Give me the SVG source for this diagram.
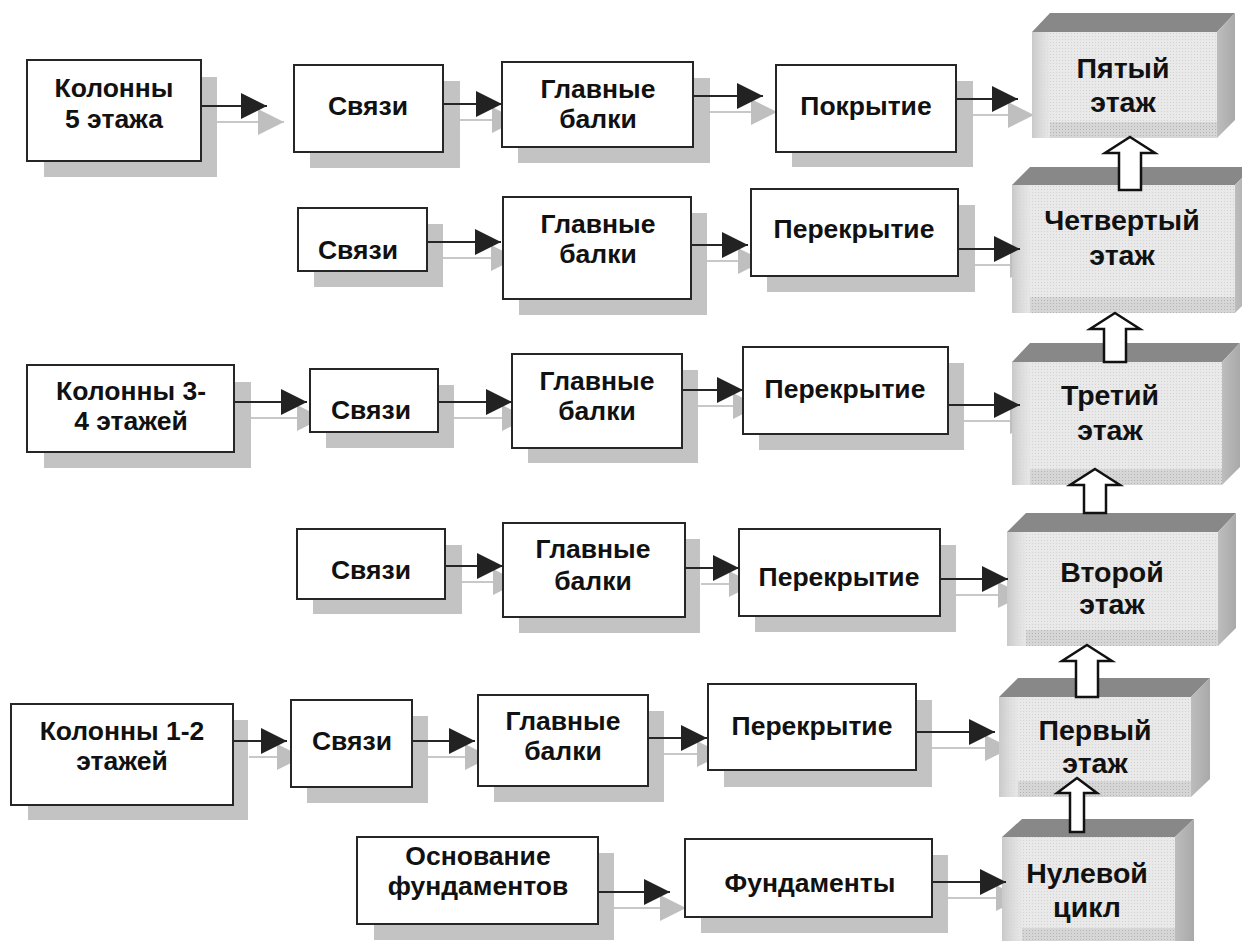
<svg xmlns="http://www.w3.org/2000/svg" width="1242" height="941" viewBox="0 0 1242 941">
<style>
.sh{fill:#c3c3c3}
.bx{fill:#fff;stroke:#262626;stroke-width:2}
.t{font-family:"Liberation Sans",Arial,sans-serif;font-weight:bold;font-size:26.5px;text-anchor:middle;fill:#111}
.t3{font-family:"Liberation Sans",Arial,sans-serif;font-weight:bold;font-size:28.5px;text-anchor:middle;fill:#111}
.bl{stroke:#262626;stroke-width:2;fill:none;marker-end:url(#ah)}
.gl{stroke:#c8c8c8;stroke-width:2;fill:none;marker-end:url(#gh)}
.front{fill:url(#dots)}
.lstrip{fill:url(#lg)}
.bstrip{fill:url(#ddots)}
.top{fill:#888}
.side{fill:url(#sg)}
.up{fill:#fff;stroke:#111;stroke-width:2.5;stroke-linejoin:miter}
</style>
<defs>
<marker id="ah" markerUnits="userSpaceOnUse" markerWidth="26" markerHeight="26" refX="26" refY="13" orient="auto"><path d="M0,0 L26,13 L0,26 Z" fill="#222"/></marker>
<marker id="gh" markerUnits="userSpaceOnUse" markerWidth="26" markerHeight="26" refX="26" refY="13" orient="auto"><path d="M0,0 L26,13 L0,26 Z" fill="#bfbfbf"/></marker>
<pattern id="dots" width="3" height="3" patternUnits="userSpaceOnUse"><rect width="3" height="3" fill="#e9e9e9"/><rect width="1" height="1" fill="#d2d2d2"/></pattern>
<pattern id="ddots" width="3" height="3" patternUnits="userSpaceOnUse"><rect width="3" height="3" fill="#d6d6d6"/><rect width="1" height="1" fill="#b4b4b4"/></pattern>
<linearGradient id="lg" x1="0" y1="0" x2="1" y2="0"><stop offset="0" stop-color="#c9c9c9"/><stop offset="1" stop-color="#e6e6e6" stop-opacity="0.6"/></linearGradient>
<linearGradient id="sg" x1="0" y1="0" x2="1" y2="0"><stop offset="0" stop-color="#bdbdbd"/><stop offset="1" stop-color="#a9a9a9"/></linearGradient>
</defs>

<g id="connector-shadows">
<path class="gl" d="M217,122 H284"/>
<path class="gl" d="M459,120 H518"/>
<path class="gl" d="M709,112 H777"/>
<path class="gl" d="M972,115 H1034"/>
<path class="gl" d="M443,258 H517"/>
<path class="gl" d="M707,261 H764"/>
<path class="gl" d="M974,265 H1036"/>
<path class="gl" d="M250,418 H323"/>
<path class="gl" d="M454,418 H528"/>
<path class="gl" d="M698,406 H759"/>
<path class="gl" d="M964,421 H1036"/>
<path class="gl" d="M461,582 H519"/>
<path class="gl" d="M701,584 H755"/>
<path class="gl" d="M956,595 H1024"/>
<path class="gl" d="M249,757 H303"/>
<path class="gl" d="M428,757 H491"/>
<path class="gl" d="M664,754 H723"/>
<path class="gl" d="M932,748 H1011"/>
<path class="gl" d="M614,908 H686"/>
<path class="gl" d="M948,898 H1022"/>
</g>

<g id="n-kol5"><rect class="sh" x="44" y="77" width="173" height="100"/><rect class="bx" x="27" y="60" width="174" height="101"/><text class="t" x="114" y="97">Колонны</text><text class="t" x="114" y="128">5 этажа</text></g>
<g id="n-sv1"><rect class="sh" x="310" y="81" width="150" height="87"/><rect class="bx" x="294" y="65" width="149" height="87"/><text class="t" x="368" y="115">Связи</text></g>
<g id="n-gb1"><rect class="sh" x="518" y="78" width="192" height="85"/><rect class="bx" x="502" y="62" width="191" height="85"/><text class="t" x="598" y="98">Главные</text><text class="t" x="598" y="128">балки</text></g>
<g id="n-pokr"><rect class="sh" x="792" y="81" width="181" height="86"/><rect class="bx" x="776" y="65" width="180" height="87"/><text class="t" x="866" y="115">Покрытие</text></g>
<g id="n-fl5"><polygon class="top" points="1032,32 1050,13 1235,13 1217,32"/><polygon class="side" points="1217,32 1235,13 1235,120 1217,138"/><rect class="front" x="1032" y="32" width="185" height="106"/><rect class="lstrip" x="1032" y="32" width="18" height="106"/><rect class="bstrip" x="1050" y="122" width="167" height="16"/><text class="t3" x="1123" y="78">Пятый</text><text class="t3" x="1123" y="112">этаж</text></g>

<g id="n-sv2"><rect class="sh" x="314" y="224" width="129" height="63"/><rect class="bx" x="298" y="208" width="129" height="63"/><text class="t" x="358" y="259">Связи</text></g>
<g id="n-gb2"><rect class="sh" x="519" y="213" width="188" height="102"/><rect class="bx" x="503" y="197" width="188" height="102"/><text class="t" x="598" y="233">Главные</text><text class="t" x="598" y="263">балки</text></g>
<g id="n-per2"><rect class="sh" x="767" y="205" width="208" height="87"/><rect class="bx" x="751" y="189" width="207" height="87"/><text class="t" x="854" y="238">Перекрытие</text></g>
<g id="n-fl4"><polygon class="top" points="1012,185 1030,167 1253,167 1235,185"/><polygon class="side" points="1235,185 1253,167 1253,295 1235,313"/><rect class="front" x="1012" y="185" width="223" height="128"/><rect class="lstrip" x="1012" y="185" width="18" height="128"/><rect class="bstrip" x="1030" y="297" width="205" height="16"/><text class="t3" x="1122" y="230">Четвертый</text><text class="t3" x="1122" y="265">этаж</text></g>

<g id="n-kol34"><rect class="sh" x="44" y="382" width="207" height="86"/><rect class="bx" x="27" y="365" width="207" height="87"/><text class="t" x="131" y="400">Колонны 3-</text><text class="t" x="131" y="430">4 этажей</text></g>
<g id="n-sv3"><rect class="sh" x="326" y="385" width="128" height="63"/><rect class="bx" x="310" y="369" width="128" height="63"/><text class="t" x="371" y="419">Связи</text></g>
<g id="n-gb3"><rect class="sh" x="528" y="370" width="170" height="93"/><rect class="bx" x="512" y="354" width="170" height="94"/><text class="t" x="597" y="390">Главные</text><text class="t" x="597" y="420">балки</text></g>
<g id="n-per3"><rect class="sh" x="759" y="363" width="205" height="87"/><rect class="bx" x="743" y="347" width="205" height="87"/><text class="t" x="845" y="398">Перекрытие</text></g>
<g id="n-fl3"><polygon class="top" points="1012,362 1030,343 1240,343 1222,362"/><polygon class="side" points="1222,362 1240,343 1240,467 1222,485"/><rect class="front" x="1012" y="362" width="210" height="123"/><rect class="lstrip" x="1012" y="362" width="18" height="123"/><rect class="bstrip" x="1030" y="469" width="192" height="16"/><text class="t3" x="1110" y="405">Третий</text><text class="t3" x="1110" y="440">этаж</text></g>

<g id="n-sv4"><rect class="sh" x="313" y="545" width="149" height="69"/><rect class="bx" x="297" y="529" width="148" height="70"/><text class="t" x="371" y="579">Связи</text></g>
<g id="n-gb4"><rect class="sh" x="519" y="539" width="181" height="94"/><rect class="bx" x="503" y="523" width="182" height="94"/><text class="t" x="593" y="558">Главные</text><text class="t" x="593" y="590">балки</text></g>
<g id="n-per4"><rect class="sh" x="755" y="545" width="201" height="87"/><rect class="bx" x="739" y="529" width="201" height="87"/><text class="t" x="839" y="586">Перекрытие</text></g>
<g id="n-fl2"><polygon class="top" points="1007,532 1026,513 1236,513 1218,532"/><polygon class="side" points="1218,532 1236,513 1236,628 1218,646"/><rect class="front" x="1007" y="532" width="211" height="114"/><rect class="lstrip" x="1007" y="532" width="19" height="114"/><rect class="bstrip" x="1026" y="630" width="192" height="16"/><text class="t3" x="1112" y="582">Второй</text><text class="t3" x="1112" y="614">этаж</text></g>

<g id="n-kol12"><rect class="sh" x="28" y="720" width="220" height="100"/><rect class="bx" x="11" y="704" width="222" height="101"/><text class="t" x="122" y="740">Колонны 1-2</text><text class="t" x="122" y="770">этажей</text></g>
<g id="n-sv5"><rect class="sh" x="307" y="716" width="121" height="87"/><rect class="bx" x="291" y="700" width="121" height="87"/><text class="t" x="352" y="750">Связи</text></g>
<g id="n-gb5"><rect class="sh" x="494" y="711" width="170" height="91"/><rect class="bx" x="478" y="695" width="170" height="91"/><text class="t" x="563" y="730">Главные</text><text class="t" x="563" y="760">балки</text></g>
<g id="n-per5"><rect class="sh" x="724" y="700" width="208" height="87"/><rect class="bx" x="708" y="684" width="208" height="86"/><text class="t" x="812" y="735">Перекрытие</text></g>
<g id="n-fl1"><polygon class="top" points="999,697 1018,678 1210,678 1191,697"/><polygon class="side" points="1191,697 1210,678 1210,779 1191,797"/><rect class="front" x="999" y="697" width="192" height="100"/><rect class="lstrip" x="999" y="697" width="19" height="100"/><rect class="bstrip" x="1018" y="781" width="173" height="16"/><text class="t3" x="1095" y="740">Первый</text><text class="t3" x="1095" y="773">этаж</text></g>

<g id="n-osn"><rect class="sh" x="374" y="853" width="240" height="87"/><rect class="bx" x="357" y="837" width="241" height="87"/><text class="t" x="478" y="865">Основание</text><text class="t" x="478" y="895">фундаментов</text></g>
<g id="n-fund"><rect class="sh" x="701" y="855" width="247" height="78"/><rect class="bx" x="685" y="839" width="247" height="78"/><text class="t" x="810" y="892">Фундаменты</text></g>
<g id="n-fl0"><polygon class="top" points="1002,837 1022,819 1194,819 1175,837"/><polygon class="side" points="1175,837 1194,819 1194,941 1175,941"/><rect class="front" x="1002" y="837" width="173" height="104"/><rect class="lstrip" x="1002" y="837" width="20" height="104"/><rect class="bstrip" x="1022" y="928" width="153" height="13"/><text class="t3" x="1087" y="883">Нулевой</text><text class="t3" x="1087" y="917">цикл</text></g>

<g id="connectors">
<path class="bl" d="M201,106 H267"/>
<path class="bl" d="M443,104 H502"/>
<path class="bl" d="M693,96 H763"/>
<path class="bl" d="M956,99 H1018"/>
<path class="bl" d="M427,242 H501"/>
<path class="bl" d="M691,245 H748"/>
<path class="bl" d="M958,249 H1020"/>
<path class="bl" d="M234,402 H307"/>
<path class="bl" d="M438,402 H512"/>
<path class="bl" d="M682,390 H743"/>
<path class="bl" d="M948,405 H1020"/>
<path class="bl" d="M445,566 H503"/>
<path class="bl" d="M685,568 H739"/>
<path class="bl" d="M940,579 H1008"/>
<path class="bl" d="M233,741 H287"/>
<path class="bl" d="M412,741 H475"/>
<path class="bl" d="M648,738 H707"/>
<path class="bl" d="M916,732 H995"/>
<path class="bl" d="M598,892 H670"/>
<path class="bl" d="M932,882 H1006"/>
<polygon class="up" points="1130,137 1155,153 1141,153 1141,190 1119,190 1119,153 1105,153"/>
<polygon class="up" points="1115,313 1140,329 1126,329 1126,362 1104,362 1104,329 1090,329"/>
<polygon class="up" points="1095,469 1120,485 1106,485 1106,513 1084,513 1084,485 1070,485"/>
<polygon class="up" points="1087,645 1112,661 1098,661 1098,697 1076,697 1076,661 1062,661"/>
<polygon class="up" points="1077,778 1097,793 1084,793 1084,832 1070,832 1070,793 1057,793"/>
</g>
</svg>
